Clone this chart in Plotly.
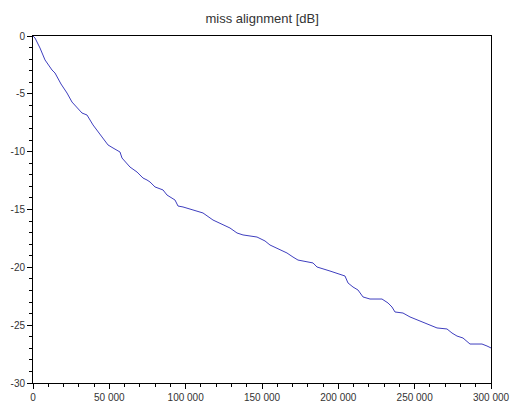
import plotly.graph_objects as go

x_samples = [0, 1310, 4585, 7860, 12445, 14410, 18340, 22270, 25545, 28820, 32095, 35370,
             39300, 45195, 49125, 52400, 55020, 56985, 58295, 63535, 68120, 72050, 74670,
             76635, 79910, 85150, 87770, 93010, 94975, 98250, 104800, 111350, 117900,
             122485, 129035, 133620, 137550, 146720, 151960, 155235, 159820, 166370,
             170300, 173575, 183400, 186020, 194535, 199120, 202395, 204360, 206325,
             209600, 212875, 216150, 220735, 228595, 232525, 235145, 237110, 242350,
             246935, 250210, 255450, 258725, 264620, 271170, 274445, 277720, 281650,
             286235, 294095, 297370, 300000]
miss_db = [0, -0.17, -1.04, -2.07, -2.94, -3.20, -4.15, -4.93, -5.71, -6.22, -6.66, -6.83,
           -7.69, -8.73, -9.42, -9.68, -9.86, -10.03, -10.55, -11.33, -11.76, -12.28, -12.45,
           -12.62, -13.05, -13.31, -13.75, -14.18, -14.70, -14.78, -15.04, -15.30, -15.91,
           -16.17, -16.60, -17.03, -17.20, -17.38, -17.72, -18.07, -18.33, -18.76,
           -19.11, -19.37, -19.62, -19.97, -20.32, -20.49, -20.66, -20.75, -21.35,
           -21.70, -21.96, -22.56, -22.74, -22.74, -23.08, -23.43, -23.86, -23.95,
           -24.29, -24.47, -24.73, -24.98, -25.24, -25.33, -25.68, -25.94, -26.11,
           -26.63, -26.63, -26.80, -26.97]

x_tick_vals = [0, 50000, 100000, 150000, 200000, 250000, 300000]
x_tick_text = ["0", "50 000", "100 000", "150 000", "200 000", "250 000", "300 000"]
y_tick_vals = [0, -5, -10, -15, -20, -25, -30]
y_tick_text = ["0", "-5", "-10", "-15", "-20", "-25", "-30"]

fig = go.Figure()
fig.add_trace(go.Scatter(x=x_samples, y=miss_db, mode="lines",
                         line=dict(color="#3f3fbf", width=1), showlegend=False))

axis_common = dict(showline=True, linecolor="black", linewidth=1, mirror=True,
                   showgrid=False, zeroline=False, ticks="outside", ticklen=5,
                   automargin=False,
                   tickcolor="black", tickfont=dict(family="Liberation Sans", size=10, color="#333"))

fig.update_xaxes(range=[0, 300000], tickvals=x_tick_vals, ticktext=x_tick_text,
                 minor=dict(ticks="outside", dtick=10000, ticklen=3, tickcolor="black"),
                 **axis_common)
fig.update_yaxes(range=[-30, 0], tickvals=y_tick_vals, ticktext=y_tick_text,
                 minor=dict(ticks="outside", dtick=1, ticklen=3, tickcolor="black"),
                 **axis_common)

fig.update_layout(
    width=512, height=403,
    margin=dict(l=33, r=21, t=36, b=20, autoexpand=False),
    paper_bgcolor="white", plot_bgcolor="white",
    title=dict(text="miss alignment [dB]", x=0.512, xanchor="center", y=0.955, yanchor="middle",
               font=dict(family="Liberation Sans", size=13, color="#333")),
)

fig.write_html("out.html")
